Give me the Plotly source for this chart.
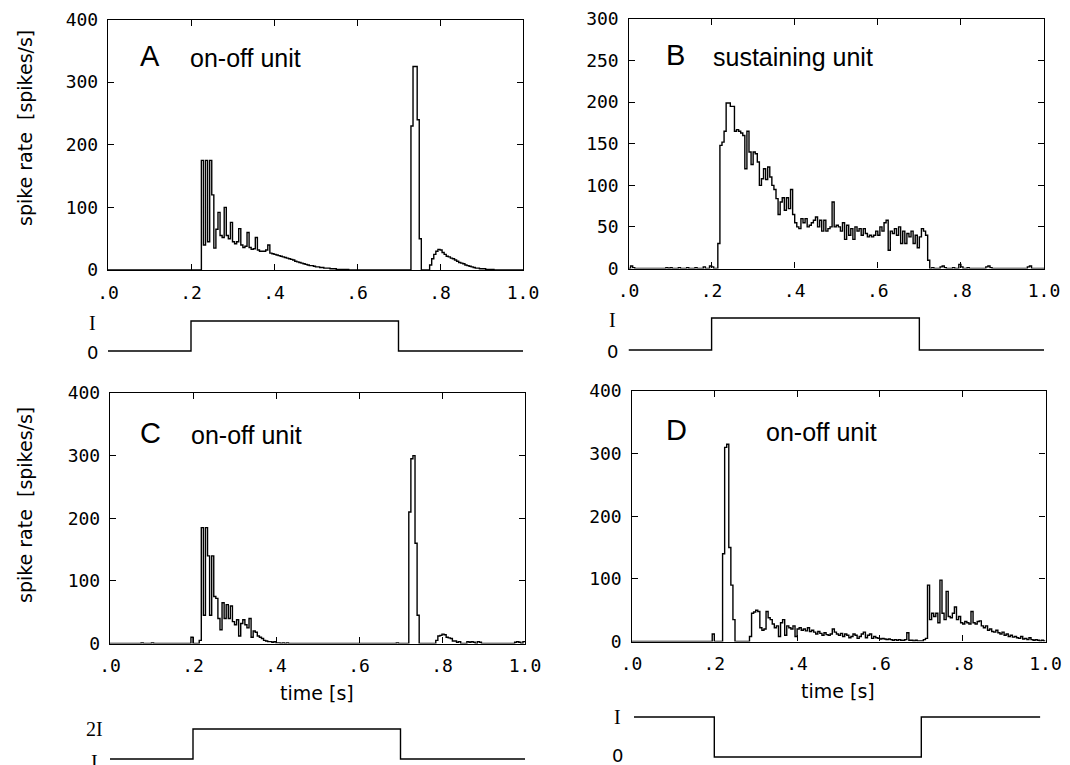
import numpy as np
import plotly.graph_objects as go

# ---------------- data (5 ms bins, 0 .. 1 s) ----------------
BIN_WIDTH = 0.005
N_BINS = 200

rate_A = [
    0, 0, 0, 0, 0, 0, 0, 0, 0, 0,
    0, 0, 0, 0, 0, 0, 0, 0, 0, 0,
    0, 0, 0, 0, 0, 0, 0, 0, 0, 0,
    0, 0, 0, 0, 0, 0, 0, 0, 0, 0,
    0, 0, 0, 0, 0, 175, 40, 175, 45, 175,
    120, 35, 65, 92, 55, 52, 100, 55, 50, 76,
    45, 42, 45, 66, 40, 36, 38, 60, 36, 33,
    34, 52, 32, 30, 30, 30, 32, 40, 27, 26,
    25, 24, 23, 22, 21, 20, 19, 18, 17, 16,
    14, 13, 12, 11, 10, 9, 8, 7, 7, 6,
    5, 5, 4, 4, 3, 3, 3, 2, 2, 2,
    1, 1, 1, 1, 1, 1, 0, 0, 0, 0,
    0, 0, 0, 0, 0, 0, 0, 0, 0, 0,
    0, 0, 0, 0, 0, 0, 0, 0, 0, 0,
    0, 0, 0, 0, 0, 0, 230, 325, 325, 240,
    50, 0, 0, 0, 0, 8, 18, 25, 30, 33,
    32, 28, 25, 22, 21, 19, 18, 16, 14, 12,
    11, 10, 8, 7, 6, 5, 4, 3, 3, 2,
    2, 2, 1, 1, 1, 1, 0, 0, 0, 0,
    0, 0, 0, 0, 0, 0, 0, 0, 0, 0,
]

rate_B = [
    0, 3, 1, 0, 0, 0, 0, 0, 0, 0,
    0, 0, 0, 0, 0, 0, 0, 0, 1, 0,
    1, 0, 0, 0, 1, 0, 0, 0, 1, 0,
    0, 0, 1, 0, 0, 0, 2, 0, 0, 3,
    2, 0, 0, 30, 148, 152, 165, 199, 199, 195,
    195, 165, 167, 165, 163, 160, 120, 165, 140, 125,
    140, 138, 128, 100, 108, 120, 107, 122, 110, 100,
    95, 84, 65, 80, 85, 70, 85, 72, 95, 65,
    55, 50, 48, 60, 55, 60, 50, 52, 55, 58,
    62, 50, 58, 45, 58, 45, 48, 50, 80, 50,
    52, 50, 45, 55, 35, 52, 40, 48, 35, 50,
    45, 48, 40, 48, 42, 38, 40, 38, 40, 45,
    40, 50, 45, 55, 58, 22, 45, 42, 48, 40,
    50, 30, 45, 30, 42, 38, 45, 30, 40, 25,
    38, 48, 45, 40, 10, 0, 1, 0, 0, 0,
    2, 3, 1, 0, 0, 0, 1, 0, 0, 5,
    2, 0, 0, 1, 0, 0, 0, 0, 0, 0,
    0, 0, 2, 3, 1, 0, 0, 0, 0, 0,
    0, 0, 0, 0, 0, 0, 0, 0, 0, 0,
    0, 0, 2, 3, 0, 0, 0, 0, 0, 0,
]

rate_C = [
    0, 0, 0, 0, 0, 0, 0, 0, 0, 0,
    0, 0, 0, 0, 0, 1, 0, 0, 0, 0,
    1, 0, 0, 0, 0, 0, 0, 0, 0, 0,
    0, 0, 0, 0, 0, 0, 0, 0, 0, 10,
    0, 0, 0, 5, 185, 45, 185, 140, 45, 140,
    75, 72, 40, 22, 65, 40, 62, 40, 60, 35,
    30, 38, 12, 32, 38, 30, 25, 40, 10, 20,
    18, 12, 10, 8, 5, 4, 3, 3, 2, 3,
    1, 1, 0, 1, 0, 1, 0, 0, 0, 0,
    0, 0, 0, 0, 0, 0, 0, 0, 0, 0,
    0, 0, 0, 0, 0, 0, 0, 0, 0, 0,
    0, 0, 0, 0, 0, 0, 0, 0, 0, 0,
    0, 0, 0, 0, 0, 0, 0, 0, 0, 0,
    0, 0, 0, 0, 0, 0, 0, 0, 1, 0,
    0, 0, 0, 0, 210, 295, 300, 160, 45, 0,
    0, 0, 0, 0, 0, 0, 0, 5, 12, 13,
    15, 14, 10, 9, 8, 4, 4, 2, 3, 0,
    0, 0, 3, 2, 3, 2, 0, 3, 2, 0,
    0, 0, 0, 0, 0, 0, 0, 0, 0, 0,
    0, 0, 0, 0, 0, 2, 3, 2, 0, 3,
]

rate_D = [
    0, 0, 0, 0, 0, 0, 0, 0, 0, 0,
    0, 0, 0, 0, 0, 0, 0, 0, 0, 0,
    0, 0, 0, 0, 0, 0, 0, 0, 0, 0,
    0, 0, 0, 0, 0, 0, 0, 0, 0, 12,
    0, 0, 0, 0, 140, 310, 315, 150, 90, 35,
    0, 0, 0, 0, 0, 0, 0, 8, 45, 47,
    50, 48, 22, 18, 20, 48, 38, 35, 28, 22,
    25, 8, 30, 35, 10, 25, 22, 20, 25, 8,
    20, 22, 18, 20, 17, 22, 16, 18, 15, 12,
    16, 13, 10, 14, 11, 10, 12, 20, 15, 12,
    10, 13, 8, 12, 10, 6, 8, 12, 10, 5,
    8, 12, 15, 6, 10, 12, 5, 8, 6, 5,
    4, 5, 4, 3, 4, 3, 2, 3, 2, 3,
    2, 2, 3, 14, 2, 2, 1, 2, 1, 1,
    1, 3, 5, 90, 35, 45, 40, 45, 30, 98,
    45, 35, 80, 40, 38, 45, 55, 35, 40, 30,
    28, 32, 30, 28, 48, 30, 28, 32, 33, 25,
    22, 25, 18, 20, 16, 15, 18, 14, 12, 15,
    10, 12, 8, 10, 7, 8, 6, 5, 8, 4,
    5, 3, 6, 3, 2, 3, 2, 1, 2, 1,
]

# stimulus protocols (times in s, stimulus level)
stim_t_A = [0.0, 0.2, 0.7, 1.0]
stim_v_A = [0, 1, 0, 0]
stim_t_B = [0.0, 0.2, 0.7, 1.0]
stim_v_B = [0, 1, 0, 0]
stim_t_C = [0.0, 0.2, 0.7, 1.0]
stim_v_C = [1, 2, 1, 1]
stim_t_D = [0.006, 0.2, 0.7, 0.987]
stim_v_D = [1, 0, 1, 1]

x_tickvals = [0.0, 0.2, 0.4, 0.6, 0.8, 1.0]
x_ticktext = [".0", ".2", ".4", ".6", ".8", "1.0"]
y_ticks_400 = [0, 100, 200, 300, 400]
y_ticks_300 = [0, 50, 100, 150, 200, 250, 300]

panel_letters = ["A", "B", "C", "D"]
panel_names = ["on-off unit", "sustaining unit", "on-off unit", "on-off unit"]

# ---------------- layout helpers ----------------
W, H = 1070, 765
PAGE_OFFSET = 8  # the page body margin shifts the figure by this many pixels


def fx(p):
    return min(max((p - PAGE_OFFSET) / W, 0.0), 1.0)


def fy(p):
    return min(max(1 - (p - PAGE_OFFSET) / H, 0.0), 1.0)


# plot boxes in window pixels: left, right, top, bottom
boxes = [
    (108, 523, 19.5, 270),
    (628.5, 1044, 19, 268.5),
    (110, 525, 393, 643.5),
    (631.5, 1045.5, 391, 641.5),
]
ymaxes = [400, 300, 400, 400]
yticks = [y_ticks_400, y_ticks_300, y_ticks_400, y_ticks_400]
rates = [rate_A, rate_B, rate_C, rate_D]

# stimulus rows: (pixel of upper level, pixel of lower level, upper value, lower value)
stim_rows = [
    (321, 351, 1, 0),
    (318, 350, 1, 0),
    (729, 759, 2, 1),
    (717, 757, 1, 0),
]
stim_ts = [stim_t_A, stim_t_B, stim_t_C, stim_t_D]
stim_vs = [stim_v_A, stim_v_B, stim_v_C, stim_v_D]

edges = np.round(np.arange(N_BINS + 1) * BIN_WIDTH, 4)

fig = go.Figure()
layout = dict(
    width=W, height=H,
    margin=dict(l=0, r=0, t=0, b=0, autoexpand=False),
    paper_bgcolor="white", plot_bgcolor="white",
    showlegend=False,
)

tick_font = dict(family="DejaVu Sans Mono", size=18, color="black")

for i in range(4):
    L, R, T, B = boxes[i]
    xa = f"xaxis{i + 1}" if i else "xaxis"
    ya = f"yaxis{i + 1}" if i else "yaxis"
    xref = f"x{i + 1}" if i else "x"
    yref = f"y{i + 1}" if i else "y"
    vals = rates[i]
    fig.add_trace(go.Scatter(
        x=edges, y=list(vals) + [vals[-1]],
        mode="lines", line=dict(color="black", width=1.4, shape="hv"),
        xaxis=xref, yaxis=yref, hoverinfo="skip",
    ))
    layout[xa] = dict(
        domain=[fx(L), fx(R)], range=[0, 1], anchor=yref,
        showline=True, linecolor="black", linewidth=1.4, mirror="ticks",
        ticks="inside", ticklen=6, tickwidth=1.2, tickcolor="black",
        tickvals=x_tickvals, ticktext=x_ticktext, tickfont=tick_font,
        showgrid=False, zeroline=False, ticklabelstandoff=6,
        automargin=False, ticklabeloverflow="allow",
    )
    layout[ya] = dict(
        domain=[fy(B), fy(T)], range=[0, ymaxes[i]], anchor=xref,
        showline=True, linecolor="black", linewidth=1.4, mirror="ticks",
        ticks="inside", ticklen=6, tickwidth=1.2, tickcolor="black",
        tickvals=yticks[i], tickfont=tick_font,
        showgrid=False, zeroline=False, ticklabelstandoff=5,
        automargin=False, ticklabeloverflow="allow",
    )

    # stimulus trace
    j = i + 5
    sxa, sya = f"xaxis{j}", f"yaxis{j}"
    sxref, syref = f"x{j}", f"y{j}"
    p_hi, p_lo, v_hi, v_lo = stim_rows[i]
    top_px, bot_px = p_hi - 15, p_lo + 5
    unit = (p_lo - p_hi) / (v_hi - v_lo)
    r0 = v_lo - (bot_px - p_lo) / unit
    r1 = r0 + (bot_px - top_px) / unit
    fig.add_trace(go.Scatter(
        x=stim_ts[i], y=stim_vs[i], mode="lines",
        line=dict(color="black", width=1.4, shape="hv"),
        xaxis=sxref, yaxis=syref, hoverinfo="skip", cliponaxis=False,
    ))
    layout[sxa] = dict(domain=[fx(L), fx(R)], range=[0, 1], anchor=syref,
                       visible=False, automargin=False)
    layout[sya] = dict(domain=[fy(bot_px), fy(top_px)], range=[r0, r1],
                       anchor=sxref, visible=False, automargin=False)

annotations = []


def ann(text, x, y, size, family="Liberation Sans", xanchor="left",
        yanchor="middle", angle=0):
    annotations.append(dict(
        text=text, x=(x - PAGE_OFFSET) / W, y=1 - (y - PAGE_OFFSET) / H,
        xref="paper", yref="paper",
        showarrow=False, xanchor=xanchor, yanchor=yanchor, textangle=angle,
        font=dict(family=family, size=size, color="black"),
    ))


# panel letters and names
letter_pos = [(138, 56), (664, 55), (138, 433), (664, 430)]
name_pos = [(188, 58), (711, 57), (189, 435), (764, 432)]
for i in range(4):
    ann(panel_letters[i], letter_pos[i][0], letter_pos[i][1], 29)
    ann(panel_names[i], name_pos[i][0], name_pos[i][1], 25)

# y-axis titles
ann("spike rate \u00a0[spikes/s]", 25, 128, 19, family="DejaVu Sans",
    xanchor="center", angle=-90)
ann("spike rate \u00a0[spikes/s]", 25, 505, 19, family="DejaVu Sans",
    xanchor="center", angle=-90)

# x-axis titles
ann("time [s]", 317, 693, 19, family="DejaVu Sans", xanchor="center")
ann("time [s]", 838, 691, 19, family="DejaVu Sans", xanchor="center")

# stimulus level labels
serif = "Liberation Serif"
ann("I", 612, 320, 20, family=serif, xanchor="center")
ann("0", 612, 352, 18, family="DejaVu Sans", xanchor="center")
ann("I", 92, 323, 20, family=serif, xanchor="center")
ann("0", 92, 353, 18, family="DejaVu Sans", xanchor="center")
ann("2I", 94, 729, 20, family=serif, xanchor="center")
ann("I", 94, 762, 20, family=serif, xanchor="center")
ann("I", 617, 717, 20, family=serif, xanchor="center")
ann("0", 617, 755, 18, family="DejaVu Sans", xanchor="center")

layout["annotations"] = annotations
fig.update_layout(**layout)
fig.write_html("out.html")
